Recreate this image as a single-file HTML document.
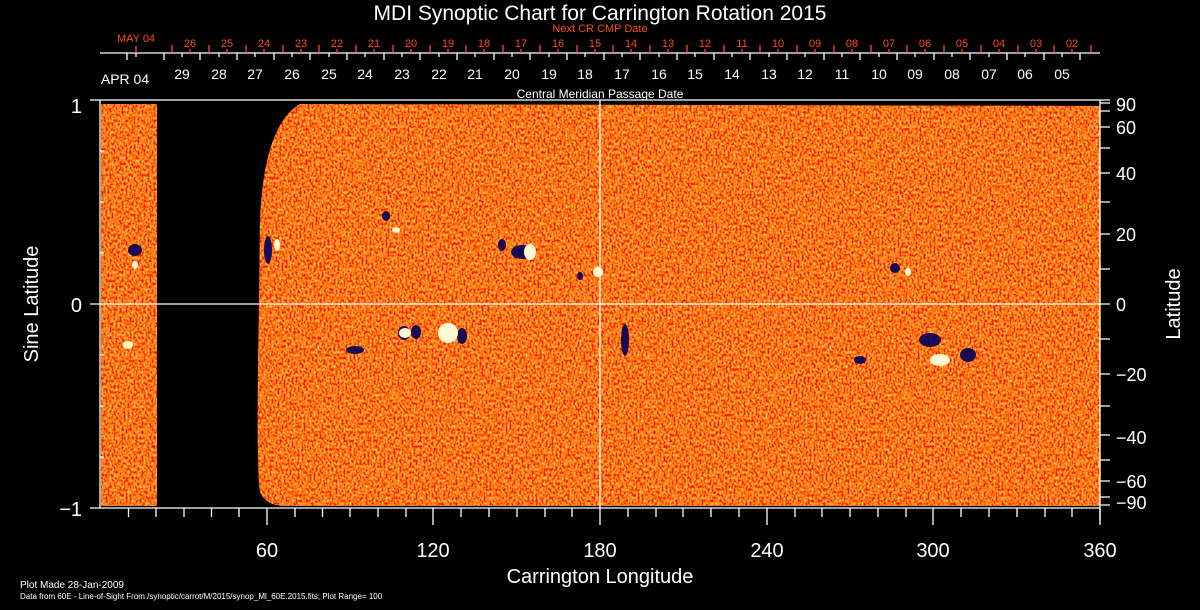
<!DOCTYPE html>
<html><head><meta charset="utf-8"><style>
html,body{margin:0;padding:0;background:#000;width:1200px;height:610px;overflow:hidden}
svg{display:block}
text{font-family:"Liberation Sans",sans-serif}
</style></head><body>
<svg width="1200" height="610" viewBox="0 0 1200 610" xmlns="http://www.w3.org/2000/svg">
<defs>
<filter id="nz" x="0" y="0" width="100%" height="100%">
<feTurbulence type="fractalNoise" baseFrequency="0.5 0.35" numOctaves="2" seed="3" result="t"/>
<feColorMatrix in="t" type="matrix" values="0 0 0 0 1  1.5 0 0 0 -0.5  0.5 0 0 0 -0.25  0 0 0 0 1"/>
</filter>
<clipPath id="cp">
<rect x="101" y="104" width="56" height="402"/>
<path d="M300,104 Q264,125 260,220 L259,304 Q256,470 260,492 Q266,506 285,506 L1100,506 L1100,106 Z"/>
</clipPath>
</defs>
<g clip-path="url(#cp)">
<rect x="100" y="100" width="1000" height="408" fill="#ee4a10"/>
<rect x="100" y="100" width="1000" height="408" filter="url(#nz)" opacity="0.8"/>
<g fill="#00005a" opacity="0.9">
<ellipse cx="522" cy="252" rx="11" ry="7"/><ellipse cx="502" cy="245" rx="4" ry="6"/>
<ellipse cx="386" cy="216" rx="4" ry="5"/><ellipse cx="404" cy="333" rx="6" ry="7"/>
<ellipse cx="416" cy="332" rx="5" ry="7"/><ellipse cx="462" cy="336" rx="5" ry="8"/>
<ellipse cx="580" cy="276" rx="3" ry="4"/><ellipse cx="895" cy="268" rx="5" ry="5"/>
<ellipse cx="968" cy="355" rx="8" ry="7"/><ellipse cx="625" cy="340" rx="4" ry="16"/>
<ellipse cx="135" cy="250" rx="7" ry="6"/><ellipse cx="268" cy="250" rx="4" ry="14"/>
<ellipse cx="355" cy="350" rx="9" ry="4"/><ellipse cx="930" cy="340" rx="11" ry="7"/>
<ellipse cx="860" cy="360" rx="6" ry="4"/>
</g>
<g fill="#fff8d0">
<ellipse cx="405" cy="333" rx="6" ry="5"/><ellipse cx="448" cy="333" rx="10" ry="10"/>
<ellipse cx="530" cy="252" rx="6" ry="8"/><ellipse cx="598" cy="272" rx="5" ry="5"/>
<ellipse cx="908" cy="272" rx="3" ry="4"/><ellipse cx="940" cy="360" rx="10" ry="6"/>
<ellipse cx="396" cy="230" rx="4" ry="3"/><ellipse cx="277" cy="245" rx="3" ry="6"/>
<ellipse cx="135" cy="265" rx="3" ry="4"/><ellipse cx="128" cy="345" rx="5" ry="4"/>
</g>
</g>
<g stroke="#fff" stroke-width="1.3" fill="none">
<line x1="90" y1="100" x2="1100" y2="100"/>
<line x1="90" y1="508" x2="1100" y2="508"/>
<line x1="100" y1="100" x2="100" y2="508"/>
<line x1="1100" y1="100" x2="1100" y2="520"/>
<line x1="90" y1="304" x2="1110" y2="304"/>
<line x1="600" y1="100" x2="600" y2="508"/>
<path d="M100,151h4M100,202h4M100,253h4M100,355h4M100,406h4M100,457h4"/>
<path d="M1100,100h10M1100,103h10M1100,111h10M1100,127h10M1100,148h10M1100,173h10M1100,202h10M1100,234h10M1100,269h10M1100,339h10M1100,374h10M1100,406h10M1100,435h10M1100,460h10M1100,481h10M1100,497h10M1100,505h10"/>
<path d="M128.5,508v9M156,508v9M184,508v9M211.5,508v9M239,508v9M267,508v17M295,508v9M322.5,508v9M350,508v9M378,508v9M406,508v9M433,508v17M461,508v9M489,508v9M517,508v9M545,508v9M572,508v9M600,508v17M628,508v9M656,508v9M683,508v9M711,508v9M739,508v9M767,508v17M795,508v9M822,508v9M850,508v9M878,508v9M906,508v9M933,508v17M961,508v9M989,508v9M1017,508v9M1045,508v9M1072,508v9M1100,508v17"/>
<line x1="100" y1="53" x2="1100" y2="53"/>
<path d="M136,53v4M182,53v4M219,53v4M255,53v4M292,53v4M329,53v4M365,53v4M402,53v4M439,53v4M475,53v4M512,53v4M549,53v4M585,53v4M622,53v4M659,53v4M695,53v4M732,53v4M769,53v4M805,53v4M842,53v4M879,53v4M915,53v4M952,53v4M989,53v4M1025,53v4M1062,53v4
M127,53v7M164,53v7M200,53v7M237,53v7M274,53v7M310,53v7M347,53v7M384,53v7M420,53v7M457,53v7M494,53v7M530,53v7M567,53v7M604,53v7M640,53v7M677,53v7M714,53v7M750,53v7M787,53v7M824,53v7M860,53v7M897,53v7M934,53v7M970,53v7M1007,53v7M1044,53v7M1080,53v7"/>
</g>
<path stroke="#ff4a1a" stroke-width="1.3" fill="none" d="M136,53v-7M190,53v-4M227,53v-4M264,53v-4M301,53v-4M337,53v-4M374,53v-4M411,53v-4M448,53v-4M484,53v-4M521,53v-4M558,53v-4M595,53v-4M631,53v-4M668,53v-4M705,53v-4M742,53v-4M778,53v-4M815,53v-4M852,53v-4M889,53v-4M925,53v-4M962,53v-4M999,53v-4M1036,53v-4M1072,53v-4
M172,53v-8M209,53v-8M246,53v-8M283,53v-8M319,53v-8M356,53v-8M393,53v-8M430,53v-8M466,53v-8M503,53v-8M540,53v-8M577,53v-8M613,53v-8M650,53v-8M687,53v-8M724,53v-8M760,53v-8M797,53v-8M834,53v-8M871,53v-8M907,53v-8M944,53v-8M981,53v-8M1018,53v-8M1054,53v-8M1091,53v-8"/>
<g fill="#fff" font-size="20">
<text x="600" y="20" text-anchor="middle" font-size="21">MDI Synoptic Chart for Carrington Rotation 2015</text>
<text x="82" y="113" text-anchor="end">1</text>
<text x="82" y="312" text-anchor="end">0</text>
<text x="82" y="516" text-anchor="end">−1</text>
<text transform="translate(38,304) rotate(-90)" text-anchor="middle">Sine Latitude</text>
<text transform="translate(1180,304) rotate(-90)" text-anchor="middle">Latitude</text>
<g text-anchor="middle"><text x="267" y="557">60</text><text x="433" y="557">120</text><text x="600" y="557">180</text><text x="767" y="557">240</text><text x="933" y="557">300</text><text x="1100" y="557">360</text></g>
<text x="600" y="583" text-anchor="middle">Carrington Longitude</text>
<g font-size="18"><text x="1116" y="111">90</text><text x="1116" y="134">60</text><text x="1116" y="180">40</text><text x="1116" y="241">20</text><text x="1116" y="311">0</text><text x="1116" y="381">−20</text><text x="1116" y="444">−40</text><text x="1116" y="488">−60</text><text x="1116" y="509">−90</text></g>
</g>
<g fill="#fff" font-size="14" text-anchor="middle">
<text x="125" y="84">APR 04</text>
<text x="182" y="79">29</text><text x="219" y="79">28</text><text x="255" y="79">27</text><text x="292" y="79">26</text><text x="329" y="79">25</text><text x="365" y="79">24</text><text x="402" y="79">23</text><text x="439" y="79">22</text><text x="475" y="79">21</text><text x="512" y="79">20</text><text x="549" y="79">19</text><text x="585" y="79">18</text><text x="622" y="79">17</text><text x="659" y="79">16</text><text x="695" y="79">15</text><text x="732" y="79">14</text><text x="769" y="79">13</text><text x="805" y="79">12</text><text x="842" y="79">11</text><text x="879" y="79">10</text><text x="915" y="79">09</text><text x="952" y="79">08</text><text x="989" y="79">07</text><text x="1025" y="79">06</text><text x="1062" y="79">05</text>
</g>
<g fill="#ff4a1a" font-size="11" text-anchor="middle">
<text x="136" y="42">MAY 04</text>
<text x="600" y="32">Next CR CMP Date</text>
<text x="190" y="47">26</text><text x="227" y="47">25</text><text x="264" y="47">24</text><text x="301" y="47">23</text><text x="337" y="47">22</text><text x="374" y="47">21</text><text x="411" y="47">20</text><text x="448" y="47">19</text><text x="484" y="47">18</text><text x="521" y="47">17</text><text x="558" y="47">16</text><text x="595" y="47">15</text><text x="631" y="47">14</text><text x="668" y="47">13</text><text x="705" y="47">12</text><text x="742" y="47">11</text><text x="778" y="47">10</text><text x="815" y="47">09</text><text x="852" y="47">08</text><text x="889" y="47">07</text><text x="925" y="47">06</text><text x="962" y="47">05</text><text x="999" y="47">04</text><text x="1036" y="47">03</text><text x="1072" y="47">02</text>
</g>
<text x="600" y="98" fill="#fff" font-size="12" text-anchor="middle">Central Meridian Passage Date</text>
<text x="20" y="588" fill="#fff" font-size="10">Plot Made 28-Jan-2009</text>
<text x="20" y="599" fill="#fff" font-size="8">Data from 60E - Line-of-Sight From /synoptic/carrot/M/2015/synop_Ml_60E.2015.fits; Plot Range= 100</text>
</svg>
</body></html>
